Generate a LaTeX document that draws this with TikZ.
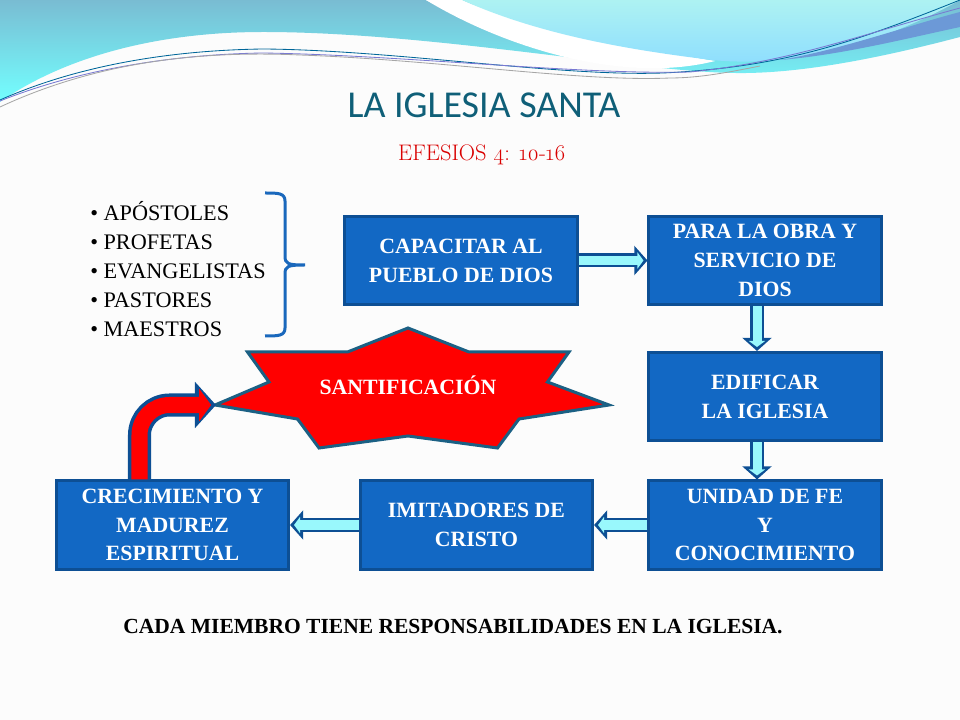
\documentclass[tikz,border=0pt]{standalone}
\usepackage{fontspec}
\setmainfont{Liberation Serif}
\newfontfamily\titlefont{Carlito}
\newfontfamily\versefont[Numbers=OldStyle]{Latin Modern Roman}
\usepackage{xcolor}
\usetikzlibrary{arrows.meta, calc}

\definecolor{boxblue}{HTML}{1268C4}
\definecolor{boxline}{HTML}{0D4F94}
\definecolor{flowfill}{HTML}{99F8FC}
\definecolor{starline}{HTML}{1B6084}
\definecolor{bracketblue}{HTML}{1A68BC}
\definecolor{titleteal}{HTML}{0F5F78}

\tikzset{
    stepbox/.style={
        draw=boxline,
        line width=0.075cm,
        fill=boxblue,
        text=white,
        minimum width=5.8cm,
        minimum height=2.2cm,
        inner sep=0pt,
        align=center,
        font=\bfseries\fontsize{15.5}{20.5}\selectfont
    },
    flowouter/.style={
        draw=boxline,
        line width=0.35cm,
        -{Triangle[length=0.33cm,width=0.72cm]}
    },
    flowinner/.style={
        draw=flowfill,
        line width=0.225cm,
        shorten >=0.1cm,
        -{Triangle[length=0.15cm,width=0.4cm]}
    },
    bendouter/.style={
        draw=boxline,
        line width=0.575cm,
        rounded corners=0.75cm,
        -{Triangle[length=0.525cm,width=1.125cm]}
    },
    bendinner/.style={
        draw=red,
        line width=0.4cm,
        rounded corners=0.75cm,
        shorten >=0.12cm,
        -{Triangle[length=0.3cm,width=0.8cm]}
    }
}

\begin{document}
\begin{tikzpicture}[x=0.025cm,y=-0.025cm]
    \useasboundingbox (0,0) rectangle (960,720);
    \fill[white!99!black] (0,0) rectangle (960,720);

    \shade[top color=blue!25!cyan!50!gray!70, bottom color=cyan!55!white]
        (0,0) -- (960,0) -- (960,37)
        .. controls (880,58) and (800,74) .. (735,73)
        .. controls (640,72) and (430,32) .. (263,32)
        .. controls (150,32) and (60,60) .. (0,102) -- cycle;

    \fill[white] (426,0) .. controls (500,40) and (600,50) .. (715,61)
        -- (640,62) .. controls (560,40) and (500,20) .. (462,0) -- cycle;
    \fill[white] (426,0) .. controls (500,45) and (620,85) .. (715,61)
        .. controls (620,45) and (520,25) .. (462,0) -- cycle;

    \shade[top color=cyan!30!white!90!gray, bottom color=blue!30!cyan!45!white]
        (462,0) .. controls (540,35) and (630,50) .. (712,60)
        .. controls (790,68) and (880,45) .. (960,0) -- cycle;
    \fill[cyan!50!blue!60!white] (780,60) .. controls (840,50) and (910,25) .. (960,12)
        -- (960,27) .. controls (900,40) and (840,55) .. (780,60) -- cycle;

    \draw[teal!80!blue, line width=0.6pt] (0,100)
        .. controls (90,60) and (190,50) .. (263,49)
        .. controls (400,50) and (580,80) .. (680,72)
        .. controls (790,65) and (860,40) .. (960,0);
    \draw[blue!50!gray!70, line width=0.6pt] (0,101)
        .. controls (90,65) and (190,54) .. (263,53)
        .. controls (400,55) and (580,75) .. (690,72)
        .. controls (790,62) and (860,35) .. (960,8);
    \draw[gray!70, line width=0.6pt] (0,107)
        .. controls (90,65) and (190,50) .. (300,55)
        .. controls (440,60) and (580,82) .. (670,78)
        .. controls (700,78) and (730,72) .. (760,66);

    \node[text=titleteal, font=\titlefont\fontsize{27}{32}\selectfont] (titulo) at (484,105) {LA IGLESIA SANTA};
    \node[text=red!85!black, font=\versefont\fontsize{16}{20}\selectfont] (cita) at (482,155) {EFESIOS 4: 10-16};

    \node[
        anchor=west,
        align=left,
        inner sep=0pt,
        font=\fontsize{15.8}{20.5}\selectfont
    ] (ministerios) at (90,269) {\textbullet\ APÓSTOLES\\\textbullet\ PROFETAS\\\textbullet\ EVANGELISTAS\\\textbullet\ PASTORES\\\textbullet\ MAESTROS};

    \draw[bracketblue, line width=0.075cm]
        (265,193) .. controls (278,193) and (285,193) .. (285,201)
        -- (285,256) .. controls (285,264) and (288,265) .. (305,265)
        .. controls (288,265) and (285,266) .. (285,274)
        -- (285,328) .. controls (285,336) and (278,336) .. (265,336);

    \node[stepbox] (capacitar) at (461,260.5) {CAPACITAR AL\\PUEBLO DE DIOS};
    \node[stepbox] (obra) at (765,260.5) {PARA LA OBRA Y\\SERVICIO DE\\DIOS};
    \node[stepbox] (edificar) at (765,396.5) {EDIFICAR\\LA IGLESIA};
    \node[stepbox] (unidad) at (765,525) {UNIDAD DE FE\\Y\\CONOCIMIENTO};
    \node[stepbox] (imitadores) at (476.5,525) {IMITADORES DE\\CRISTO};
    \node[stepbox] (crecimiento) at (172.5,525) {CRECIMIENTO Y\\MADUREZ\\ESPIRITUAL};

    \draw[
        line width=0.075cm,
        draw=starline,
        fill=red,
        line join=miter
    ] (215,405) -- (269,382) -- (247.5,352) -- (347.5,352) -- (408,328) -- (469,352)
      -- (569,352) -- (547.5,382) -- (609,405) -- (519,419) -- (497.5,448) -- (408,436)
      -- (319,448) -- (297.5,419) -- cycle;
    \node[text=white, font=\bfseries\fontsize{15.5}{20}\selectfont] (santificacion) at (408,385) {SANTIFICACIÓN};
    \coordinate (puntaestrella) at (216,405);
    \coordinate (codo) at (139.5,405);

    \foreach \from/\to in {
        capacitar.east/obra.west,
        unidad.west/imitadores.east,
        imitadores.west/crecimiento.east}
    {
        \draw[flowouter] (\from) -- (\to);
        \draw[flowinner] (\from) -- (\to);
    }
    \foreach \from/\to in {obra.south/edificar.north, edificar.south/unidad.north}
    {
        \draw[flowouter] ($(\from)+(-8,0)$) -- ($(\to)+(-8,0)$);
        \draw[flowinner] ($(\from)+(-8,0)$) -- ($(\to)+(-8,0)$);
    }

    \draw[bendouter] (crecimiento.north -| codo) -- (codo) -- (puntaestrella);
    \draw[bendinner] (crecimiento.north -| codo) -- (codo) -- (puntaestrella);

    \node[font=\bfseries\fontsize{15.3}{20}\selectfont] (responsabilidades) at (453,627) {CADA MIEMBRO TIENE RESPONSABILIDADES EN LA IGLESIA.};
\end{tikzpicture}
\end{document}
